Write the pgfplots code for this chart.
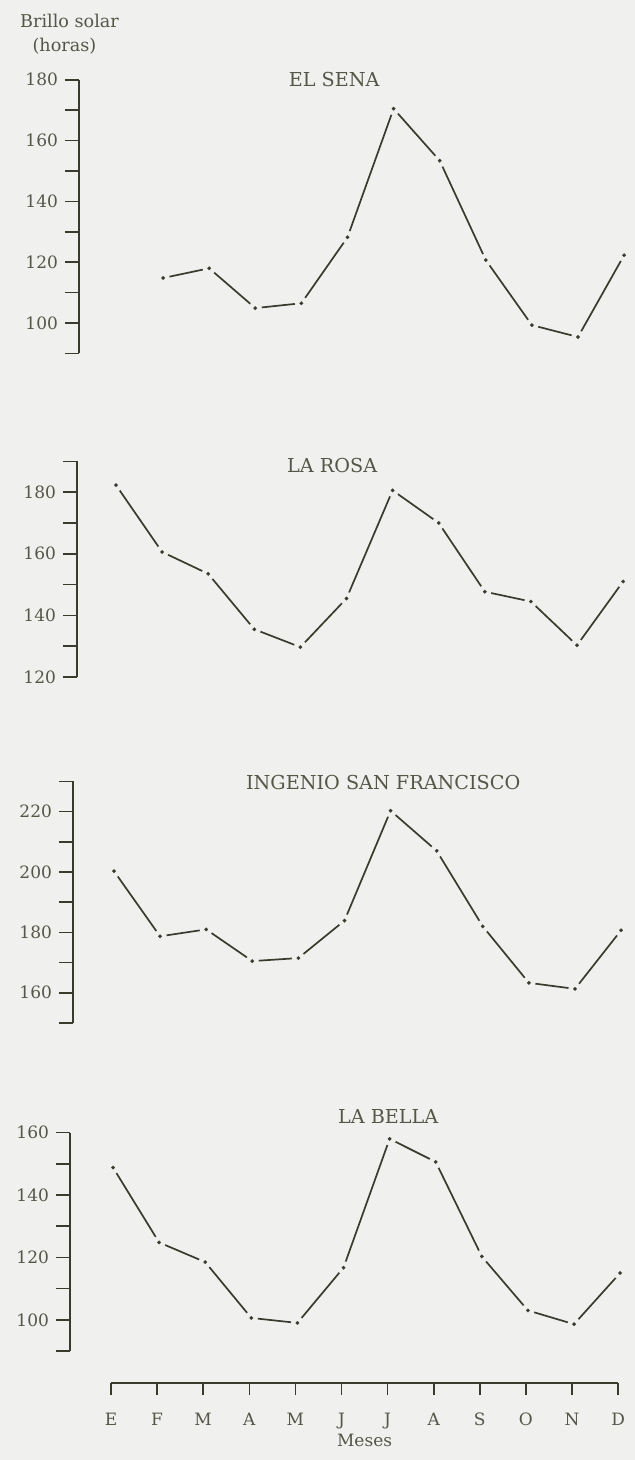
\documentclass[border=0pt]{standalone}
\usepackage{fontspec}
\setmainfont{DejaVu Serif}
\usepackage{pgfplots}
\usepackage{pgfplotstable}
\pgfplotsset{compat=1.18}
\definecolor{bgc}{RGB}{240,240,238}
\definecolor{ink}{RGB}{58,58,46}
\definecolor{txt}{RGB}{85,85,72}

\pgfplotstableread{
m v
1 114.8
2 118
3 104.9
4 106.5
5 128.2
6 170.5
7 153.4
8 120.7
9 99.3
10 95.4
11 122.3
}\sena
\pgfplotstableread{
m v
0 182.3
1 160.6
2 153.5
3 135.5
4 129.7
5 145.5
6 180.6
7 170
8 147.7
9 144.5
10 130.3
11 151
}\rosa
\pgfplotstableread{
m v
0 200.3
1 178.7
2 181
3 170.5
4 171.5
5 183.9
6 220.3
7 207
8 182
9 163.3
10 161.3
11 180.7
}\ingenio
\pgfplotstableread{
m v
0 148.8
1 124.8
2 118.5
3 100.6
4 99
5 116.7
6 158
7 150.6
8 120.3
9 103
10 98.6
11 115
}\bella

\tikzset{
 ttl/.style={font=\fontsize{9.6}{11}\selectfont, text=txt},
 lbl/.style={font=\fontsize{8.8}{10}\selectfont, text=txt},
}
\pgfplotsset{
 panel/.style={
  anchor=south west,
  x=23.05pt, xmax=11.1,
  axis x line=none, axis y line*=left,
  clip=false,
  tick align=outside,
  major tick length=7pt, minor tick length=7pt,
  tick style={ink, line width=0.8pt},
  y axis line style={ink, line width=0.9pt},
  yticklabel style={font=\fontsize{8.5}{10}\selectfont, text=txt},
  /pgf/number format/assume math mode=true,
 },
 ln/.style={ink, line width=0.85pt, mark=*, mark size=3.2pt, mark options={draw=bgc, fill=bgc, line width=0.1pt}},
 dt/.style={only marks, mark=*, mark size=0.9pt, mark options={draw=ink, fill=ink, line width=0.1pt}},
}

\begin{document}
\begin{tikzpicture}
\useasboundingbox (0,0) rectangle (317.5pt,-730pt);
\fill[bgc] (0,0) rectangle (317.5pt,-730pt);

% EL SENA
\begin{axis}[panel, at={(39.5pt,-176.7pt)}, xmin=-0.824, y=1.52pt, ymin=90, ymax=180,
  ytick={100,120,...,180}, minor ytick={90,110,...,170}]
\addplot[ln] table[x=m,y=v] {\sena};
\addplot[dt] table[x=m,y=v] {\sena};
\node[ttl] at (axis cs:4.71,180) {EL SENA};
\node[lbl] at (axis cs:-1.03,199.4) {Brillo solar};
\node[lbl] at (axis cs:-1.14,190.9) {(horas)};
\end{axis}

% LA ROSA
\begin{axis}[panel, at={(38.5pt,-338.5pt)}, xmin=-0.846, y=1.54pt, ymin=120, ymax=190,
  ytick={120,140,...,180}, minor ytick={130,150,...,190}]
\addplot[ln] table[x=m,y=v] {\rosa};
\addplot[dt] table[x=m,y=v] {\rosa};
\node[ttl] at (axis cs:4.69,188.8) {LA ROSA};
\end{axis}

% INGENIO SAN FRANCISCO
\begin{axis}[panel, at={(36.5pt,-511.5pt)}, xmin=-0.889, y=1.51pt, ymin=150, ymax=230,
  ytick={160,180,...,220}, minor ytick={150,170,...,230}]
\addplot[ln] table[x=m,y=v] {\ingenio};
\addplot[dt] table[x=m,y=v] {\ingenio};
\node[ttl] at (axis cs:5.84,229.6) {INGENIO SAN FRANCISCO};
\end{axis}

% LA BELLA
\begin{axis}[panel, at={(35pt,-675.5pt)}, xmin=-0.933, y=1.56pt, ymin=90, ymax=160,
  ytick={100,120,...,160}, minor ytick={90,110,...,150}]
\addplot[ln] table[x=m,y=v] {\bella};
\addplot[dt] table[x=m,y=v] {\bella};
\node[ttl] at (axis cs:5.97,165.1) {LA BELLA};
\end{axis}

% Month axis
\begin{axis}[anchor=south west, at={(55.5pt,-691.5pt)}, x=23.05pt, y=1pt,
  xmin=0, xmax=11, ymin=0, ymax=1,
  axis x line*=bottom, axis y line=none,
  tick align=outside, major tick length=6pt,
  tick style={ink, line width=0.8pt},
  x axis line style={ink, line width=0.9pt},
  xtick={0,...,11}, xticklabels={E,F,M,A,M,J,J,A,S,O,N,D},
  xticklabel style={font=\fontsize{8.5}{10}\selectfont, text=txt, yshift=-5.5pt},
  xlabel={Meses}, xlabel style={font=\fontsize{8.5}{10}\selectfont, text=txt, yshift=4.5pt}]
\end{axis}
\end{tikzpicture}
\end{document}
